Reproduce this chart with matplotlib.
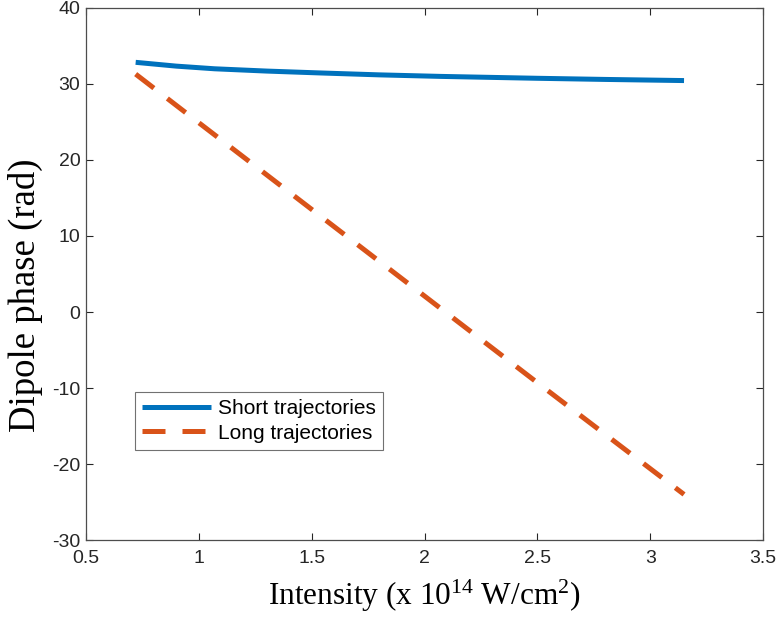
import numpy as np
import matplotlib.pyplot as plt

# ==================== DATA ====================
intensity_short = [0.72, 0.9, 1.07, 1.3, 1.54, 1.8, 2.07, 2.5, 2.8, 3.15]
phase_short = [32.85, 32.35, 32.0, 31.7, 31.45, 31.2, 31.0, 30.75, 30.6, 30.45]

intensity_long = [0.72, 1.0, 1.5, 2.0, 2.5, 3.15]
phase_long = [31.3, 24.9, 13.5, 2.1, -9.3, -24.0]

x_ticks = [0.5, 1, 1.5, 2, 2.5, 3, 3.5]
y_ticks = [-30, -20, -10, 0, 10, 20, 30, 40]

BLUE = "#0072BD"
ORANGE = "#D95319"
GRAY = "#262626"

plt.rcParams["axes.unicode_minus"] = False
plt.rcParams["mathtext.fontset"] = "custom"
plt.rcParams["mathtext.rm"] = "Liberation Serif"
plt.rcParams["mathtext.it"] = "Liberation Serif:italic"
plt.rcParams["mathtext.bf"] = "Liberation Serif:bold"

fig = plt.figure(figsize=(7.77, 6.19), dpi=100)
ax = fig.add_axes([0.1107, 0.1276, 0.8713, 0.8595])

ax.plot(intensity_short, phase_short, color=BLUE, lw=3.6,
        solid_capstyle="butt", label="Short trajectories")
ax.plot(intensity_long, phase_long, color=ORANGE, lw=3.6,
        dashes=(4.6, 3.4), dash_capstyle="butt", label="Long trajectories")

ax.set_xlim(0.5, 3.5)
ax.set_ylim(-30, 40)
ax.set_xticks(x_ticks)
ax.set_xticklabels([f"{t:g}" for t in x_ticks])
ax.set_yticks(y_ticks)

for lbl in ax.get_xticklabels() + ax.get_yticklabels():
    lbl.set_fontfamily("Liberation Sans")
    lbl.set_fontsize(14)
    lbl.set_color(GRAY)

ax.tick_params(direction="in", length=5, width=0.8, color=GRAY,
               top=True, right=True)
ax.tick_params(axis="x", pad=7)
ax.tick_params(axis="y", pad=4)
for sp in ax.spines.values():
    sp.set_color("#4d4d4d")
    sp.set_linewidth(0.9)

ax.set_xlabel(r"Intensity (x 10$^{\mathrm{14}}$ W/cm$^{\mathrm{2}}$)",
              family="Liberation Serif", fontsize=22.5, labelpad=8)
ax.set_ylabel("Dipole phase (rad)", family="Liberation Serif", fontsize=26.5)
ax.yaxis.set_label_coords(-0.064, 0.46)

leg = ax.legend(loc="upper left", bbox_to_anchor=(0.072, 0.278),
                prop=dict(family="Liberation Sans", size=15),
                frameon=True, fancybox=False, edgecolor="#4d4d4d",
                handlelength=3.3, handletextpad=0.35, borderpad=0.35,
                labelspacing=0.25, borderaxespad=0)
leg.get_frame().set_linewidth(0.8)

plt.savefig("out.png", dpi=100)
plt.close()
